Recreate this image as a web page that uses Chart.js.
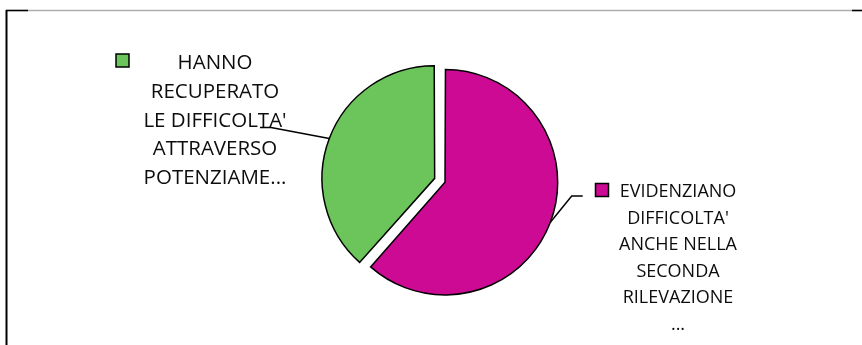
<!DOCTYPE html>
<html><head><meta charset="utf-8">
<script src="https://cdn.jsdelivr.net/npm/chart.js@4/dist/chart.umd.min.js"></script>
<style>html,body{margin:0;padding:0;background:#fff;overflow:hidden}canvas{display:block}</style>
</head><body>
<canvas id="c" width="862" height="345"></canvas>
<script>
// ---- data ----
const categories = [
  "EVIDENZIANO DIFFICOLTA' ANCHE NELLA SECONDA RILEVAZIONE ...",
  "HANNO RECUPERATO LE DIFFICOLTA' ATTRAVERSO POTENZIAME..."
];
const labelLines = [
  ["EVIDENZIANO", "DIFFICOLTA'", "ANCHE NELLA", "SECONDA", "RILEVAZIONE", "..."],
  ["HANNO", "RECUPERATO", "LE DIFFICOLTA'", "ATTRAVERSO", "POTENZIAME..."]
];
const values = [8, 5];
const sliceColors = ['#CC0A93', '#6BC55A'];

// ---- label layout (styles / positions for the data labels) ----
const labelLayout = [
  { cx: 678, y0: 190.7, lh: 26.5, size: 18, key: [595.5, 183.5, 13, 13], elbow: [571.7, 196], end: [582.7, 196] },
  { cx: 215, y0: 61.7, lh: 28.75, size: 20.5, key: [116, 54, 13, 13], elbow: [271, 127.5], end: [260, 127.5] }
];

const framePlugin = {
  id: 'frame',
  beforeDraw(chart) {
    const ctx = chart.ctx;
    ctx.save();
    ctx.lineWidth = 1.5;
    ctx.strokeStyle = '#ADADAD';
    ctx.beginPath(); ctx.moveTo(6, 10.5); ctx.lineTo(862, 10.5); ctx.stroke();
    ctx.strokeStyle = '#000';
    ctx.beginPath(); ctx.moveTo(6, 10.5); ctx.lineTo(28, 10.5); ctx.stroke();
    ctx.beginPath(); ctx.moveTo(852, 10.5); ctx.lineTo(862, 10.5); ctx.stroke();
    ctx.lineWidth = 2;
    ctx.beginPath(); ctx.moveTo(6.5, 10); ctx.lineTo(6.5, 345); ctx.stroke();
    ctx.restore();
  }
};

const labelPlugin = {
  id: 'sliceLabels',
  afterDatasetsDraw(chart) {
    const ctx = chart.ctx;
    const meta = chart.getDatasetMeta(0);
    ctx.save();
    meta.data.forEach((arc, i) => {
      const p = arc.getProps(['x', 'y', 'startAngle', 'endAngle', 'outerRadius'], true);
      const off = (arc.options.offset || 0) / 4;
      const circ = p.endAngle - p.startAngle;
      const fix = 1 - Math.sin(Math.min(Math.PI, circ));
      const r = p.outerRadius + off * fix + off;
      const mid = (p.startAngle + p.endAngle) / 2;
      const sx = p.x + Math.cos(mid) * r, sy = p.y + Math.sin(mid) * r;
      const L = labelLayout[i];
      // leader line
      ctx.strokeStyle = '#000';
      ctx.lineWidth = 1.5;
      ctx.beginPath();
      ctx.moveTo(sx, sy); ctx.lineTo(L.elbow[0], L.elbow[1]); ctx.lineTo(L.end[0], L.end[1]);
      ctx.stroke();
      // legend key
      ctx.fillStyle = sliceColors[i];
      ctx.fillRect(L.key[0], L.key[1], L.key[2], L.key[3]);
      ctx.lineWidth = 1.5;
      ctx.strokeRect(L.key[0], L.key[1], L.key[2], L.key[3]);
      // text
      ctx.fillStyle = '#0D0D0D';
      ctx.font = L.size + 'px "Open Sans"';
      ctx.textAlign = 'center';
      ctx.textBaseline = 'alphabetic';
      labelLines[i].forEach((t, k) => {
        ctx.fillText(t, L.cx, L.y0 + k * L.lh + 0.357 * L.size);
      });
    });
    ctx.restore();
  }
};

function build() {
  new Chart(document.getElementById('c'), {
    type: 'pie',
    data: {
      labels: categories,
      datasets: [{
        data: values,
        backgroundColor: sliceColors,
        borderColor: '#000',
        borderWidth: 1.5,
        borderJoinStyle: 'miter',
        offset: [11.14, 33.06],
        hoverOffset: 0
      }]
    },
    options: {
      responsive: false,
      animation: false,
      events: [],
      radius: 109.9,
      layout: { padding: { left: 30, right: 7.2, top: 20, bottom: 2.4 } },
      plugins: { legend: { display: false }, tooltip: { enabled: false }, title: { display: false } }
    },
    plugins: [framePlugin, labelPlugin]
  });
}
if (document.fonts && document.fonts.load) {
  Promise.all([document.fonts.load('20px "Open Sans"'), document.fonts.load('18px "Open Sans"')]).then(build, build);
} else build();
</script>
</body></html>
